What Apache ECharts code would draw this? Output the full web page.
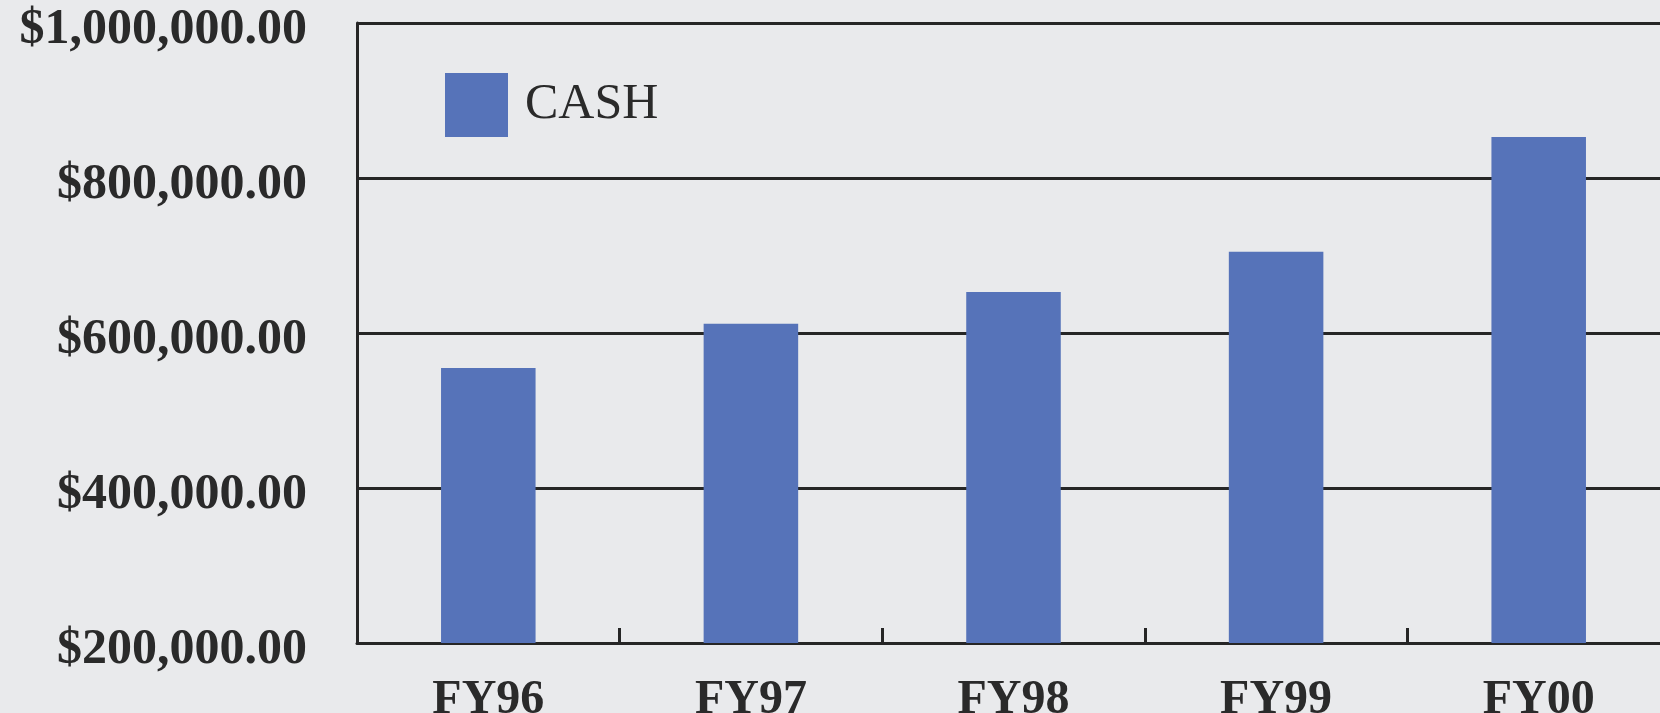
<!DOCTYPE html>
<html>
<head>
<meta charset="utf-8">
<script src="https://cdn.jsdelivr.net/npm/echarts@6/dist/echarts.min.js"></script>
<style>
html, body { margin: 0; padding: 0; background: #e9eaec; }
#chart { width: 1660px; height: 713px; }
</style>
</head>
<body>
<div id="chart"></div>
<script>
// 年度现金数据
var categories = ['FY96', 'FY97', 'FY98', 'FY99', 'FY00'];
var cashValues = [555000, 612000, 653000, 705000, 853000];
var seriesName = 'CASH';

var font = '"Liberation Serif", "Times New Roman", serif';
var lineColor = '#262626';

var myChart = echarts.init(document.getElementById('chart'));
myChart.setOption({
    backgroundColor: '#e9eaec',
    animation: false,
    grid: {
        left: 357,
        top: 23,
        bottom: 70,
        right: -10,
        outerBoundsMode: 'none',
        containLabel: false
    },
    legend: {
        left: 440,
        top: 68,
        itemWidth: 63,
        itemHeight: 64,
        icon: 'rect',
        textStyle: {
            fontFamily: font,
            fontSize: 50,
            color: '#2a2a2a',
            padding: [0, 0, 0, 12]
        },
        data: [seriesName]
    },
    xAxis: {
        type: 'category',
        data: categories,
        axisLine: { lineStyle: { color: lineColor, width: 3 } },
        axisTick: { show: true, inside: true, length: 15, lineStyle: { color: lineColor, width: 3 } },
        axisLabel: {
            margin: 34,
            fontFamily: font,
            fontSize: 48,
            fontWeight: 'bold',
            color: '#2a2a2a'
        }
    },
    yAxis: {
        type: 'value',
        min: 200000,
        max: 1000000,
        interval: 200000,
        axisLine: { show: true, lineStyle: { color: lineColor, width: 3 } },
        axisTick: { show: false },
        splitLine: { lineStyle: { color: lineColor, width: 3 } },
        axisLabel: {
            margin: 50,
            color: '#2a2a2a',
            formatter: function (v) {
                return '{a|$' + v.toLocaleString('en-US', { minimumFractionDigits: 2, maximumFractionDigits: 2 }) + '}';
            },
            rich: {
                a: {
                    fontFamily: font,
                    fontSize: 50,
                    fontWeight: 'bold',
                    color: '#2a2a2a',
                    padding: [14, 0, 0, 0]
                }
            }
        }
    },
    series: [{
        name: seriesName,
        type: 'bar',
        data: cashValues,
        barWidth: '36%',
        itemStyle: { color: '#5673b9' }
    }]
});
</script>
</body>
</html>
